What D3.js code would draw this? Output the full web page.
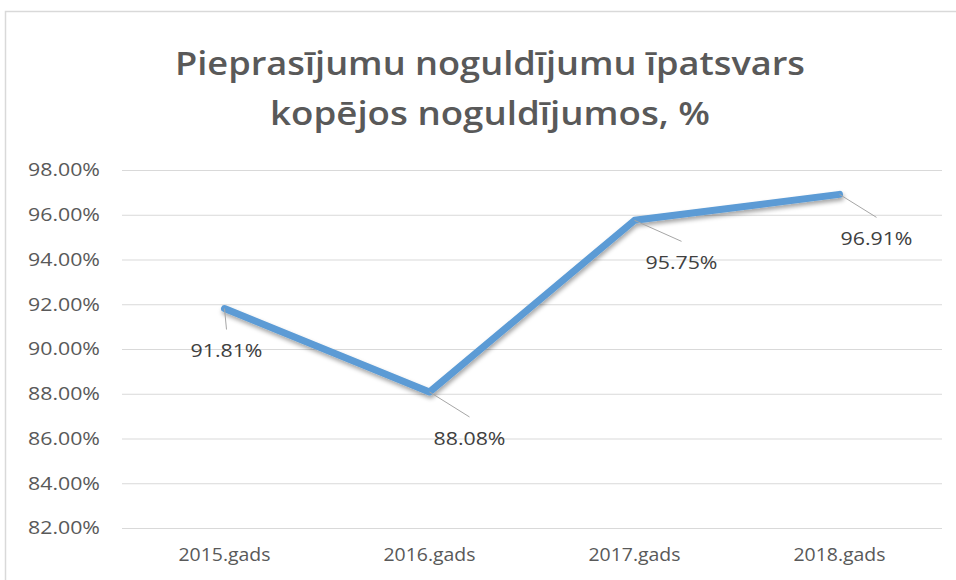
<!DOCTYPE html>
<html>
<head>
<meta charset="utf-8">
<script src="https://cdn.jsdelivr.net/npm/d3@7"></script>
<style>
  body { margin: 0; background: #fff; }
  svg { display: block; }
</style>
</head>
<body>
<div id="chart"></div>
<script>
// data
var categories = ["2015.gads", "2016.gads", "2017.gads", "2018.gads"];
var values = [91.81, 88.08, 95.75, 96.91];
var yTicks = [82, 84, 86, 88, 90, 92, 94, 96, 98];
var titleLines = ["Pieprasījumu noguldījumu īpatsvars", "kopējos noguldījumos, %"];
// label offsets (dx, dy) from point, as in the original
var labelOffsets = [[2, 42], [40, 46], [47, 42], [37, 44]];

var width = 956, height = 580;
var margin = { top: 170, right: 14, bottom: 52, left: 122 };

var svg = d3.select("#chart").append("svg")
    .attr("width", width)
    .attr("height", height);

// chart frame
svg.append("rect")
    .attr("x", 5.5).attr("y", 11.5)
    .attr("width", 960).attr("height", 600)
    .attr("fill", "#fff")
    .attr("stroke", "#d9d9d9")
    .attr("stroke-width", 1.5);

var defs = svg.append("defs");
var filter = defs.append("filter").attr("id", "shadow")
    .attr("x", "-10%").attr("y", "-10%").attr("width", "120%").attr("height", "130%");
filter.append("feDropShadow")
    .attr("dx", 1).attr("dy", 3).attr("stdDeviation", 2)
    .attr("flood-color", "#000").attr("flood-opacity", 0.35);

// title
svg.append("g").selectAll("text")
    .data(titleLines)
  .enter().append("text")
    .attr("x", 490)
    .attr("y", function(d, i) { return 75 + i * 50; })
    .attr("text-anchor", "middle")
    .attr("font-family", "'Open Sans', sans-serif")
    .attr("font-weight", 600)
    .attr("font-size", 33)
    .attr("fill", "#595959")
    .attr("textLength", function(d, i) { return i == 0 ? 630 : 440; })
    .attr("lengthAdjust", "spacingAndGlyphs")
    .text(function(d) { return d; });

var g = svg.append("g")
    .attr("transform", "translate(" + margin.left + "," + margin.top + ")");

var x = d3.scaleBand()
    .domain(categories)
    .range([0, 820]);

var y = d3.scaleLinear()
    .domain([82, 98])
    .range([358, 0]);

// gridlines + y labels
var yAxis = d3.axisLeft(y)
    .tickValues(yTicks)
    .tickSize(-820)
    .tickPadding(22)
    .tickFormat(function(d) { return d.toFixed(2) + "%"; });

g.append("g").attr("class", "y-axis")
    .call(yAxis)
    .call(function(s) {
      s.select(".domain").remove();
      s.selectAll("line").attr("stroke", "#d9d9d9").attr("stroke-width", 1.2);
      s.selectAll("text")
        .attr("font-family", "'Open Sans', sans-serif")
        .attr("font-size", 18)
        .attr("fill", "#595959")
        .attr("textLength", 72)
        .attr("lengthAdjust", "spacingAndGlyphs");
    });

// x labels
var xAxis = d3.axisBottom(x).tickSize(0).tickPadding(20);
g.append("g").attr("class", "x-axis")
    .attr("transform", "translate(0," + y(82) + ")")
    .call(xAxis)
    .call(function(s) {
      s.select(".domain").remove();
      s.selectAll("text")
        .attr("font-family", "'Open Sans', sans-serif")
        .attr("font-size", 19)
        .attr("fill", "#595959")
        .attr("textLength", 92)
        .attr("lengthAdjust", "spacingAndGlyphs");
    });

var pts = categories.map(function(c, i) {
  return { cat: c, v: values[i], px: x(c) + x.bandwidth() / 2, py: y(values[i]) };
});

// line
var line = d3.line()
    .x(function(d) { return d.px; })
    .y(function(d) { return d.py; });

g.append("path")
    .datum(pts)
    .attr("d", line)
    .attr("fill", "none")
    .attr("stroke", "#5b9bd5")
    .attr("stroke-width", 7)
    .attr("stroke-linejoin", "round")
    .attr("stroke-linecap", "round")
    .attr("filter", "url(#shadow)");

// leader lines and labels
var labels = g.append("g").selectAll("g")
    .data(pts)
  .enter().append("g");

labels.append("line")
    .attr("x1", function(d) { return d.px; })
    .attr("y1", function(d) { return d.py; })
    .attr("x2", function(d, i) { return d.px + labelOffsets[i][0]; })
    .attr("y2", function(d, i) { return d.py + labelOffsets[i][1] - 21; })
    .attr("stroke", "#a6a6a6")
    .attr("stroke-width", 1);

labels.append("text")
    .attr("x", function(d, i) { return d.px + labelOffsets[i][0]; })
    .attr("y", function(d, i) { return d.py + labelOffsets[i][1]; })
    .attr("text-anchor", "middle")
    .attr("dy", "0.35em")
    .attr("font-family", "'Open Sans', sans-serif")
    .attr("font-size", 19)
    .attr("fill", "#404040")
    .attr("textLength", 72)
    .attr("lengthAdjust", "spacingAndGlyphs")
    .text(function(d) { return d.v.toFixed(2) + "%"; });
</script>
</body>
</html>
